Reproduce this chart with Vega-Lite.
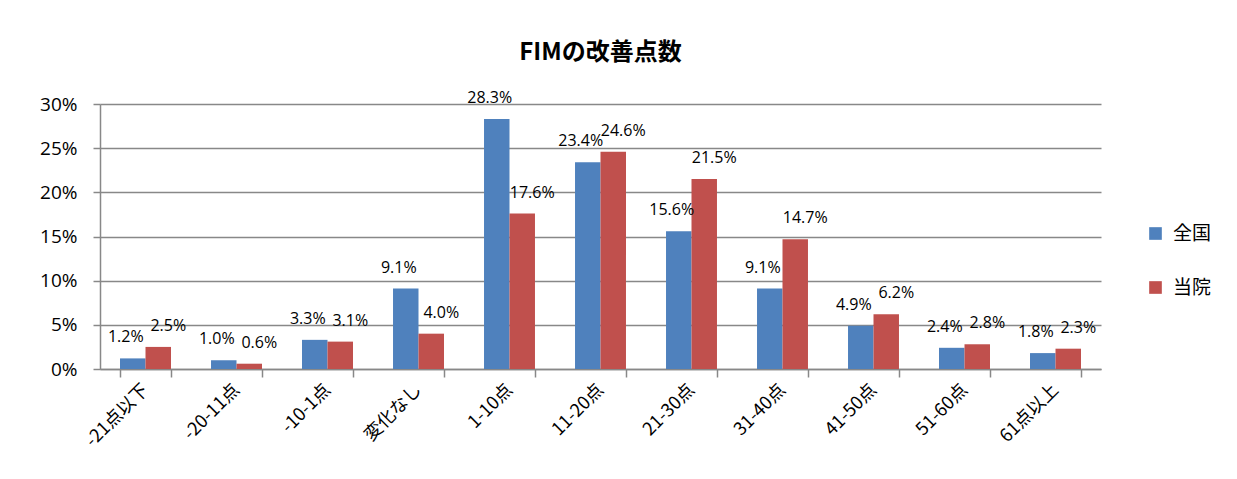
{
  "$schema": "https://vega.github.io/schema/vega-lite/v6.json",
  "width": 1001,
  "height": 265,
  "autosize": {"type": "none"},
  "padding": {"left": 100, "top": 104, "right": 136, "bottom": 110},
  "background": "white",
  "title": {
    "text": "FIMの改善点数",
    "font": "Noto Sans CJK JP",
    "fontSize": 24,
    "fontWeight": "bold",
    "color": "black",
    "anchor": "middle",
    "offset": 25
  },
  "data": {
    "values": [
      {"cat": "-21点以下", "series": "全国", "value": 0.012},
      {"cat": "-21点以下", "series": "当院", "value": 0.025},
      {"cat": "-20-11点", "series": "全国", "value": 0.010},
      {"cat": "-20-11点", "series": "当院", "value": 0.006},
      {"cat": "-10-1点", "series": "全国", "value": 0.033},
      {"cat": "-10-1点", "series": "当院", "value": 0.031},
      {"cat": "変化なし", "series": "全国", "value": 0.091},
      {"cat": "変化なし", "series": "当院", "value": 0.040},
      {"cat": "1-10点", "series": "全国", "value": 0.283},
      {"cat": "1-10点", "series": "当院", "value": 0.176},
      {"cat": "11-20点", "series": "全国", "value": 0.234},
      {"cat": "11-20点", "series": "当院", "value": 0.246},
      {"cat": "21-30点", "series": "全国", "value": 0.156},
      {"cat": "21-30点", "series": "当院", "value": 0.215},
      {"cat": "31-40点", "series": "全国", "value": 0.091},
      {"cat": "31-40点", "series": "当院", "value": 0.147},
      {"cat": "41-50点", "series": "全国", "value": 0.049},
      {"cat": "41-50点", "series": "当院", "value": 0.062},
      {"cat": "51-60点", "series": "全国", "value": 0.024},
      {"cat": "51-60点", "series": "当院", "value": 0.028},
      {"cat": "61点以上", "series": "全国", "value": 0.018},
      {"cat": "61点以上", "series": "当院", "value": 0.023}
    ]
  },
  "encoding": {
    "x": {
      "field": "cat",
      "type": "nominal",
      "sort": null,
      "title": null,
      "scale": {"paddingInner": 0.44, "paddingOuter": 0.22},
      "axis": {
        "labelAngle": -45,
        "labelAlign": "right",
        "labelBaseline": "middle",
        "labelFont": "Noto Sans CJK JP",
        "labelFontSize": 18,
        "labelColor": "black",
        "labelPadding": 10,
        "tickBand": "extent",
        "tickSize": 8,
        "tickColor": "#888888",
        "tickWidth": 1.5,
        "domainColor": "#888888",
        "domainWidth": 1.5,
        "grid": false
      }
    },
    "xOffset": {"field": "series", "type": "nominal", "sort": ["全国", "当院"]},
    "y": {
      "field": "value",
      "type": "quantitative",
      "title": null,
      "scale": {"domain": [0, 0.3]},
      "axis": {
        "values": [0, 0.05, 0.1, 0.15, 0.2, 0.25, 0.3],
        "format": ".0%",
        "labelFont": "Open Sans",
        "labelFontSize": 19,
        "labelColor": "black",
        "labelPadding": 16,
        "tickSize": 7,
        "tickColor": "#888888",
        "tickWidth": 1.5,
        "domainColor": "#888888",
        "domainWidth": 1.5,
        "grid": true,
        "gridColor": "#888888",
        "gridWidth": 1.5
      }
    }
  },
  "layer": [
    {
      "mark": {"type": "bar"},
      "encoding": {
        "color": {
          "field": "series",
          "type": "nominal",
          "sort": ["全国", "当院"],
          "scale": {"domain": ["全国", "当院"], "range": ["#4F81BD", "#C0504D"]},
          "legend": {
            "title": null,
            "orient": "none",
            "legendX": 1046,
            "legendY": 120,
            "symbolType": "square",
            "symbolSize": 160,
            "symbolStrokeWidth": 0,
            "labelFont": "Noto Sans CJK JP",
            "labelFontSize": 19,
            "labelColor": "black",
            "labelOffset": 8,
            "rowPadding": 34
          }
        }
      }
    },
    {
      "transform": [{"filter": "datum.series === '全国'"}],
      "mark": {"type": "text", "baseline": "bottom", "dy": -13, "dx": -7, "font": "Open Sans", "fontSize": 16, "color": "black"},
      "encoding": {"text": {"field": "value", "type": "quantitative", "format": ".1%"}}
    },
    {
      "transform": [{"filter": "datum.series === '当院'"}],
      "mark": {"type": "text", "baseline": "bottom", "dy": -13, "dx": 10, "font": "Open Sans", "fontSize": 16, "color": "black"},
      "encoding": {"text": {"field": "value", "type": "quantitative", "format": ".1%"}}
    }
  ],
  "config": {"view": {"stroke": null}}
}
